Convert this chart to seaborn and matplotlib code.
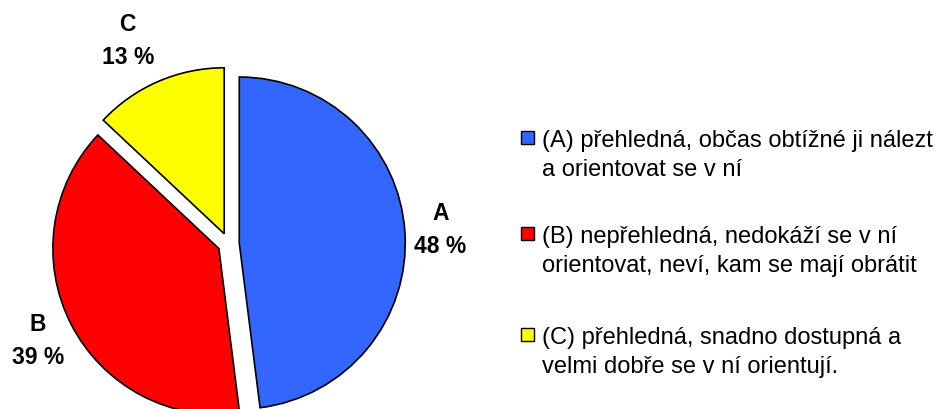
import numpy as np
import matplotlib
matplotlib.use("Agg")
import matplotlib.pyplot as plt
from matplotlib.patches import Rectangle
import seaborn as sns

# ---- data ----
categories = ["A", "B", "C"]
values = [48, 39, 13]
legend_labels = [
    "(A) přehledná, občas obtížné ji nálezt\na orientovat se v ní",
    "(B) nepřehledná, nedokáží se v ní\norientovat, neví, kam se mají obrátit",
    "(C) přehledná, snadno dostupná a\nvelmi dobře se v ní orientují.",
]
colors = ["#3366FF", "#FF0000", "#FFFF00"]

sns.set_theme(style="white")
plt.rcParams["font.family"] = ["Liberation Sans", "DejaVu Sans"]

W, H = 945, 409
fig = plt.figure(figsize=(W / 100, H / 100), dpi=100)

# pie axes: centre at (228.5, 243.7) px from top-left, radius 166 px
L = 1.3
R_PX = 166.0
S = R_PX * L
cx, cy = 228.5, H - 243.7
ax = fig.add_axes([(cx - S) / W, (cy - S) / H, 2 * S / W, 2 * S / H])

explode_amt = 0.065
explode = [explode_amt] * len(values)
wedges, _ = ax.pie(
    values,
    colors=colors,
    startangle=90,
    counterclock=False,
    explode=explode,
    wedgeprops=dict(edgecolor="black", linewidth=1.2),
)
ax.set_xlim(-L, L)
ax.set_ylim(-L, L)
ax.set_aspect("equal", adjustable="box")
ax.axis("off")

# data labels
label_dist = [1.215, 1.225, 1.30]
label_turn = [0.0, 0.0, 3.0]  # small angular nudge (deg)
total = float(sum(values))
start = 90.0
for i, (cat, v) in enumerate(zip(categories, values)):
    span = 360.0 * v / total
    mid = np.deg2rad(start - span / 2.0 + label_turn[i])
    start -= span
    d = explode_amt + label_dist[i]
    ax.text(d * np.cos(mid), d * np.sin(mid), f"{cat}\n{v} %",
            ha="center", va="center", fontsize=16.5, fontweight="bold",
            color="black", linespacing=1.55)

# legend (manual, marker aligned with first line)
leg_baseline = [147, 243, 344]  # px from top, baseline of first line
line_gap = 29
fs = 17
for i, lab in enumerate(legend_labels):
    yb = H - leg_baseline[i]
    yc = yb + 9.5
    fig.patches.append(Rectangle((521 / W, (yc - 6.5) / H), 13 / W, 13 / H,
                                 transform=fig.transFigure, facecolor=colors[i],
                                 edgecolor="black", linewidth=1.0))
    for k, line in enumerate(lab.split("\n")):
        fig.text(542 / W, (yb - k * line_gap) / H, line, ha="left",
                 va="baseline", fontsize=fs, color="black")

fig.savefig("out.png", dpi=100)
